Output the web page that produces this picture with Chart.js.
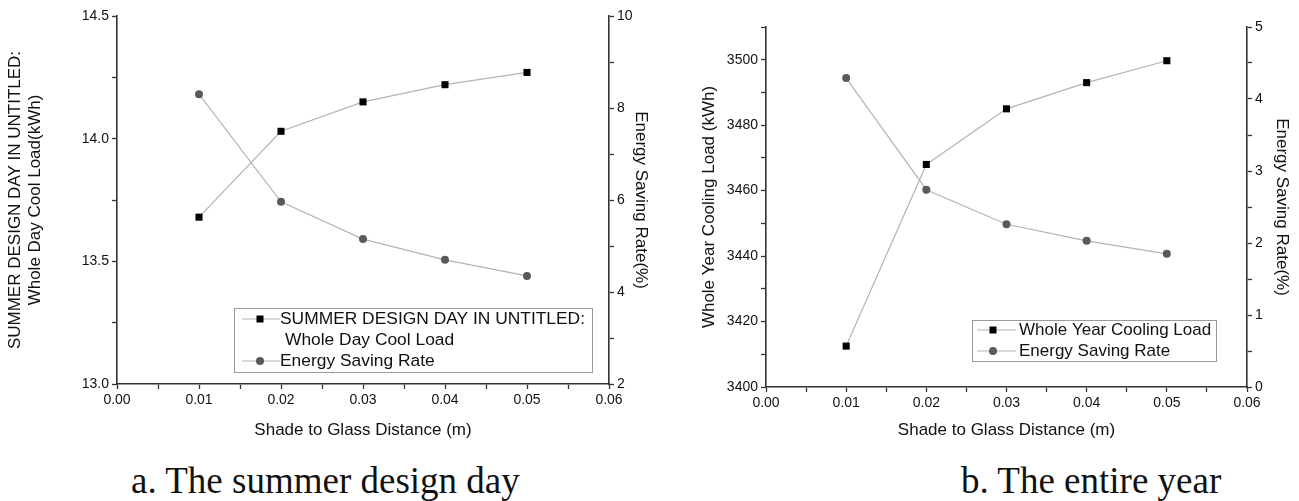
<!DOCTYPE html>
<html>
<head>
<meta charset="utf-8">
<script src="https://cdn.jsdelivr.net/npm/chart.js@4"></script>
<style>
  body { margin: 0; background: #fff; width: 1299px; height: 501px; overflow: hidden; position: relative; }
  .wrap { position: absolute; top: 0; height: 445px; }
  .caption { position: absolute; top: 462px; font-family: "Liberation Serif", serif; font-size: 37px; line-height: 37px; color: #111; white-space: nowrap; }
</style>
</head>
<body>
<div class="wrap" style="left:0;width:655px"><canvas id="dayChart" width="655" height="445"></canvas></div>
<div class="wrap" style="left:655px;width:644px"><canvas id="yearChart" width="644" height="445"></canvas></div>
<div class="caption" style="left:131px">a. The summer design day</div>
<div class="caption" style="left:961px">b. The entire year</div>

<script>
// shade to glass distance (m)
const distance = [0.01, 0.02, 0.03, 0.04, 0.05];

// summer design day
const dayCoolLoad = [13.68, 14.03, 14.15, 14.22, 14.27];
const daySavingRate = [8.30, 5.96, 5.15, 4.70, 4.35];

// entire year
const yearCoolingLoad = [3412.5, 3468, 3485, 3493, 3499.7];
const yearSavingRate = [4.29, 2.74, 2.26, 2.03, 1.85];

const dayLegend = [['SUMMER DESIGN DAY IN UNTITLED:', 'Whole Day Cool Load'], ['Energy Saving Rate']];
const yearLegend = [['Whole Year Cooling Load'], ['Energy Saving Rate']];

const FONT = '"Liberation Sans", Arial, sans-serif';
const AXIS = '#333';
const LINE = '#b4b4b4';

function points(ys) {
    return distance.map((x, i) => ({ x: x, y: ys[i] }));
}

function isMultiple(v, step) {
    const r = v / step;
    return Math.abs(r - Math.round(r)) < 1e-6;
}

// fixed axis sizes so both plots sit where they should
function fixWidth(w) { return scale => { scale.width = w; }; }
function fixHeight(h) { return scale => { scale.height = h; }; }

// legend drawn inside the plot, bottom right, with a thin box
const boxLegend = {
    id: 'boxLegend',
    afterDraw(chart, args, opts) {
        const ctx = chart.ctx;
        const a = chart.chartArea;
        const x = a.right - opts.right - opts.width;
        const y = a.bottom - opts.bottom - opts.height;
        ctx.save();
        ctx.strokeStyle = '#9a9a9a';
        ctx.lineWidth = 1;
        ctx.strokeRect(x + 0.5, y + 0.5, opts.width, opts.height);
        ctx.font = opts.fontSize + 'px ' + FONT;
        ctx.textBaseline = 'middle';
        let row = 0;
        opts.labels.forEach((lines, i) => {
            const ds = chart.data.datasets[i];
            const cy = y + opts.top + row * opts.rowHeight;
            ctx.strokeStyle = LINE;
            ctx.lineWidth = 1.2;
            ctx.beginPath();
            ctx.moveTo(x + opts.lineFrom, cy);
            ctx.lineTo(x + opts.lineTo, cy);
            ctx.stroke();
            ctx.fillStyle = ds.pointBackgroundColor;
            if (ds.pointStyle === 'rect') {
                ctx.fillRect(x + opts.marker - 3.5, cy - 3.5, 7, 7);
            } else {
                ctx.beginPath();
                ctx.arc(x + opts.marker, cy, 4, 0, Math.PI * 2);
                ctx.fill();
            }
            ctx.fillStyle = '#111';
            lines.forEach((t, k) => {
                ctx.fillText(t, x + opts.text + (k > 0 ? 5 : 0), cy + k * opts.rowHeight);
            });
            row += lines.length;
        });
        ctx.restore();
    }
};

function lineSet(label, ys, axis, style) {
    return {
        label: label,
        data: points(ys),
        yAxisID: axis,
        borderColor: LINE,
        borderWidth: 1.2,
        pointStyle: style,
        pointRadius: style === 'rect' ? 5 : 4,
        pointBackgroundColor: style === 'rect' ? '#000' : '#5a5a5a',
        pointBorderColor: style === 'rect' ? '#000' : '#5a5a5a',
        pointBorderWidth: 0,
        tension: 0
    };
}

function axisBase(extra) {
    return Object.assign({
        type: 'linear',
        border: { color: AXIS, width: 1.6 },
        grid: { drawOnChartArea: false, drawTicks: true, tickLength: 5, color: AXIS, tickColor: AXIS, tickWidth: 1.3 },
    }, extra);
}

function xAxis(height) {
    return axisBase({
        position: 'bottom',
        min: 0, max: 0.06,
        afterFit: fixHeight(height),
        ticks: {
            stepSize: 0.005, autoSkip: false, maxRotation: 0, color: '#111', padding: 3,
            font: { family: FONT, size: 14 },
            callback: v => isMultiple(v, 0.01) ? v.toFixed(2) : ''
        },
        title: { display: true, text: 'Shade to Glass Distance (m)', color: '#111', font: { family: FONT, size: 17 }, padding: { top: 0, bottom: 4 } }
    });
}

function yAxis(pos, min, max, step, major, digits, title, width, titlePad) {
    return axisBase({
        position: pos,
        min: min, max: max,
        afterFit: fixWidth(width),
        ticks: {
            stepSize: step, autoSkip: false, color: '#111', padding: 3,
            font: { family: FONT, size: 14 },
            callback: v => isMultiple(v, major) ? v.toFixed(digits) : ''
        },
        title: { display: true, text: title, color: '#111', font: { family: FONT, size: 17 }, padding: { top: titlePad, bottom: 0 } }
    });
}

// a. summer design day
new Chart(document.getElementById('dayChart'), {
    type: 'line',
    data: {
        datasets: [
            lineSet('Whole Day Cool Load', dayCoolLoad, 'y', 'rect'),
            lineSet('Energy Saving Rate', daySavingRate, 'y1', 'circle')
        ]
    },
    options: {
        responsive: false,
        animation: false,
        layout: { padding: { top: 16, left: 0, right: 0, bottom: 0 } },
        scales: {
            x: xAxis(61),
            y: yAxis('left', 13, 14.5, 0.25, 0.5, 1, ['SUMMER DESIGN DAY IN UNTITLED:', 'Whole Day Cool Load(kWh)'], 117, 5),
            y1: yAxis('right', 2, 10, 1, 2, 0, 'Energy Saving Rate(%)', 46, 4)
        },
        plugins: {
            legend: { display: false },
            tooltip: { enabled: false },
            boxLegend: { labels: dayLegend, right: 17, bottom: 12, width: 358, height: 64, top: 11, rowHeight: 21, lineFrom: 8, lineTo: 46, marker: 26, text: 46, fontSize: 17.4 }
        }
    },
    plugins: [boxLegend]
});

// b. entire year
new Chart(document.getElementById('yearChart'), {
    type: 'line',
    data: {
        datasets: [
            lineSet('Whole Year Cooling Load', yearCoolingLoad, 'y', 'rect'),
            lineSet('Energy Saving Rate', yearSavingRate, 'y1', 'circle')
        ]
    },
    options: {
        responsive: false,
        animation: false,
        layout: { padding: { top: 27, left: 0, right: 0, bottom: 0 } },
        scales: {
            x: xAxis(58),
            y: yAxis('left', 3400, 3510, 10, 20, 0, 'Whole Year Cooling Load (kWh)', 111, 44),
            y1: yAxis('right', 0, 5, 0.5, 1, 0, 'Energy Saving Rate(%)', 52, 7)
        },
        plugins: {
            legend: { display: false },
            tooltip: { enabled: false },
            boxLegend: { labels: yearLegend, right: 31, bottom: 26, width: 244, height: 41, top: 10, rowHeight: 21, lineFrom: 5, lineTo: 44, marker: 21, text: 47, fontSize: 17 }
        }
    },
    plugins: [boxLegend]
});
</script>
</body>
</html>
